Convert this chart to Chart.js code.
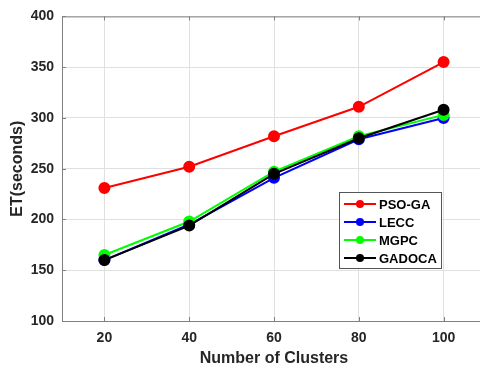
<!DOCTYPE html>
<html lang="en">
<head>
    <meta charset="UTF-8">
    <title>ET vs Number of Clusters</title>
    <script src="https://cdn.jsdelivr.net/npm/chart.js"></script>
    <style>
        html, body { margin: 0; padding: 0; overflow: hidden; background: #fff; }
        #wrap { width: 500px; height: 372px; position: relative; }
    </style>
</head>
<body>
    <div id="wrap"><canvas id="etChart"></canvas></div>

    <script>
        // data
        const clusters = [20, 40, 60, 80, 100];
        const psoGa  = [231, 252, 282, 311, 355];
        const lecc   = [160, 195, 241, 279, 300];
        const mgpc   = [165, 198, 247, 282, 303];
        const gadoca = [160, 194, 245, 280, 308];
        const yTicks = [100, 150, 200, 250, 300, 350, 400];

        // order: lower number is painted on top (GADOCA over the rest)
        const series = [
            { label: 'PSO-GA', values: psoGa,  color: '#ff0000', order: 3 },
            { label: 'LECC',   values: lecc,   color: '#0000ff', order: 2 },
            { label: 'MGPC',   values: mgpc,   color: '#00ff00', order: 1 },
            { label: 'GADOCA', values: gadoca, color: '#000000', order: 0 }
        ];

        const textColor = '#262626';
        const axisColor = '#808080';

        // matlab-ish frame: top border, inward tick marks, boxed legend
        const framePlugin = {
            id: 'frame',
            afterDraw(chart) {
                const ctx = chart.ctx;
                const a = chart.chartArea;
                const xs = chart.scales.x, ys = chart.scales.y;
                ctx.save();
                ctx.strokeStyle = axisColor;
                ctx.lineWidth = 1;
                ctx.beginPath();
                ctx.moveTo(a.left, a.top + 0.5);
                ctx.lineTo(a.right, a.top + 0.5);
                clusters.forEach(c => {
                    const px = Math.round(xs.getPixelForValue(c)) + 0.5;
                    ctx.moveTo(px, a.bottom); ctx.lineTo(px, a.bottom - 4);
                    ctx.moveTo(px, a.top);    ctx.lineTo(px, a.top + 4);
                });
                yTicks.forEach(v => {
                    const py = Math.round(ys.getPixelForValue(v)) + 0.5;
                    ctx.moveTo(a.left, py); ctx.lineTo(a.left + 4, py);
                });
                ctx.stroke();

                // legend box
                const bx = 339, by = 192, bw = 102, bh = 76;
                ctx.fillStyle = '#fff';
                ctx.fillRect(bx, by, bw, bh);
                ctx.strokeStyle = '#555';
                ctx.strokeRect(bx + 0.5, by + 0.5, bw, bh);
                ctx.font = 'bold 13px "Liberation Sans", Arial, sans-serif';
                ctx.textBaseline = 'middle';
                chart.data.datasets.forEach((ds, i) => {
                    const cy = by + 12 + i * 18;
                    ctx.strokeStyle = ds.borderColor;
                    ctx.lineWidth = 2;
                    ctx.beginPath();
                    ctx.moveTo(344, cy); ctx.lineTo(376, cy);
                    ctx.stroke();
                    ctx.fillStyle = ds.backgroundColor;
                    ctx.beginPath();
                    ctx.arc(360, cy, 4, 0, Math.PI * 2);
                    ctx.fill();
                    ctx.fillStyle = '#000';
                    ctx.fillText(ds.label, 379, cy + 1);
                });
                ctx.restore();
            }
        };

        const ctx = document.getElementById('etChart').getContext('2d');
        new Chart(ctx, {
            type: 'line',
            data: {
                datasets: series.map(s => ({
                    label: s.label,
                    data: clusters.map((c, i) => ({ x: c, y: s.values[i] })),
                    order: s.order,
                    borderColor: s.color,
                    backgroundColor: s.color,
                    borderWidth: 2,
                    pointRadius: 5,
                    pointHoverRadius: 5,
                    fill: false,
                    tension: 0
                }))
            },
            options: {
                responsive: true,
                maintainAspectRatio: false,
                animation: false,
                layout: { padding: { top: 11, right: 14, left: 0, bottom: 0 } },
                plugins: {
                    legend: { display: false },
                    tooltip: { enabled: false }
                },
                scales: {
                    x: {
                        type: 'linear',
                        min: 10,
                        max: 110,
                        afterBuildTicks: s => { s.ticks = clusters.map(v => ({ value: v })); },
                        afterFit: s => { s.height = 51; },
                        grid: { color: '#e0e0e0', drawTicks: false },
                        border: { color: axisColor },
                        ticks: {
                            color: textColor,
                            padding: 9,
                            font: { family: '"Liberation Sans", Arial, sans-serif', size: 14, weight: 'bold' }
                        },
                        title: {
                            display: true,
                            text: 'Number of Clusters',
                            color: textColor,
                            padding: { top: 4 },
                            font: { family: '"Liberation Sans", Arial, sans-serif', size: 16, weight: 'bold' }
                        }
                    },
                    y: {
                        min: 100,
                        max: 400,
                        afterBuildTicks: s => { s.ticks = yTicks.map(v => ({ value: v })); },
                        afterFit: s => { s.width = 62; },
                        grid: { color: '#e0e0e0', drawTicks: false },
                        border: { color: axisColor },
                        ticks: {
                            color: textColor,
                            padding: 8,
                            font: { family: '"Liberation Sans", Arial, sans-serif', size: 14, weight: 'bold' }
                        },
                        title: {
                            display: true,
                            text: 'ET(seconds)',
                            color: textColor,
                            padding: { top: 8, bottom: 2 },
                            font: { family: '"Liberation Sans", Arial, sans-serif', size: 16, weight: 'bold' }
                        }
                    }
                }
            },
            plugins: [framePlugin]
        });
    </script>
</body>
</html>
